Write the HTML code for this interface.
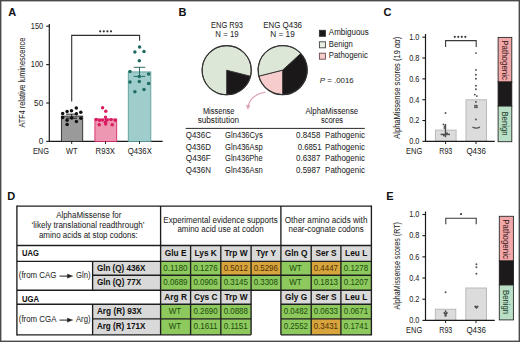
<!DOCTYPE html>
<html><head><meta charset="utf-8"><style>
html,body{margin:0;padding:0;background:#fff;overflow:hidden;}
svg{display:block;font-family:"Liberation Sans", sans-serif;}
text{stroke:currentColor;stroke-width:0.04px;}
</style></head><body>
<svg width="520" height="342" viewBox="0 0 520 342">
<rect width="520" height="342" fill="#fff"/>
<text x="8.2" y="16" font-size="11" text-anchor="start" fill="#111" color="#111" font-weight="bold">A</text>
<text x="178.5" y="16" font-size="11" text-anchor="start" fill="#111" color="#111" font-weight="bold">B</text>
<text x="383.5" y="16" font-size="11" text-anchor="start" fill="#111" color="#111" font-weight="bold">C</text>
<text x="7.3" y="200" font-size="11" text-anchor="start" fill="#111" color="#111" font-weight="bold">D</text>
<text x="386.2" y="200" font-size="11" text-anchor="start" fill="#111" color="#111" font-weight="bold">E</text>
<line x1="49.3" y1="23.9" x2="49.3" y2="141.4" stroke="#1a1a1a" stroke-width="1.2"/>
<line x1="46.2" y1="26.2" x2="49.3" y2="26.2" stroke="#1a1a1a" stroke-width="1.1"/>
<text x="43.2" y="29" font-size="8.2" text-anchor="end" fill="#1e1e1e" color="#1e1e1e" textLength="12.4" lengthAdjust="spacingAndGlyphs">150</text>
<line x1="46.2" y1="64.6" x2="49.3" y2="64.6" stroke="#1a1a1a" stroke-width="1.1"/>
<text x="43.2" y="67" font-size="8.2" text-anchor="end" fill="#1e1e1e" color="#1e1e1e" textLength="12.4" lengthAdjust="spacingAndGlyphs">100</text>
<line x1="46.2" y1="103" x2="49.3" y2="103" stroke="#1a1a1a" stroke-width="1.1"/>
<text x="43.2" y="106" font-size="8.2" text-anchor="end" fill="#1e1e1e" color="#1e1e1e">50</text>
<line x1="46.2" y1="141.4" x2="49.3" y2="141.4" stroke="#1a1a1a" stroke-width="1.1"/>
<text x="43.2" y="144" font-size="8.2" text-anchor="end" fill="#1e1e1e" color="#1e1e1e">0</text>
<line x1="48.699999999999996" y1="141.4" x2="162.7" y2="141.4" stroke="#1a1a1a" stroke-width="1.2"/>
<rect x="61.4" y="116.1" width="21.3" height="25.3" fill="#9a9a9a" stroke="#2a2a2a" stroke-width="0.9"/>
<rect x="94.9" y="119" width="21.8" height="22.4" fill="#ee97b2" stroke="#d92a66" stroke-width="0.9"/>
<rect x="128.3" y="71.9" width="22.5" height="69.5" fill="#9ecdcb" stroke="#5e9f9d" stroke-width="0.9"/>
<line x1="71.7" y1="141.4" x2="71.7" y2="143.9" stroke="#1a1a1a" stroke-width="1.0"/>
<line x1="105.5" y1="141.4" x2="105.5" y2="143.9" stroke="#1a1a1a" stroke-width="1.0"/>
<line x1="139.5" y1="141.4" x2="139.5" y2="143.9" stroke="#1a1a1a" stroke-width="1.0"/>
<path d="M66,114.2 H77 M71.7,114.2 V118.2 M66,118.2 H77" stroke="#111" stroke-width="0.9" fill="none" />
<path d="M105.5,117.5 V121" stroke="#a0103e" stroke-width="0.8" fill="none" />
<path d="M133.7,67.3 H145.3 M139.5,67.3 V76.4 M133.7,76.4 H145.3" stroke="#1c5e56" stroke-width="0.9" fill="none" />
<path d="M71.7,101.6 V35.4 H139.6 V40.8" stroke="#2e2e2e" stroke-width="1.1" fill="none" />
<circle cx="100.2" cy="31.3" r="1.1" fill="#2e2e2e"/>
<circle cx="103.8" cy="31.3" r="1.1" fill="#2e2e2e"/>
<circle cx="107.4" cy="31.3" r="1.1" fill="#2e2e2e"/>
<circle cx="111.0" cy="31.3" r="1.1" fill="#2e2e2e"/>
<circle cx="76.3" cy="108.1" r="1.75" fill="#111"/>
<circle cx="71.5" cy="110.7" r="1.75" fill="#111"/>
<circle cx="67.1" cy="111.5" r="1.75" fill="#111"/>
<circle cx="80.8" cy="112.3" r="1.75" fill="#111"/>
<circle cx="62.7" cy="113.6" r="1.75" fill="#111"/>
<circle cx="76.4" cy="113.8" r="1.75" fill="#111"/>
<circle cx="62.7" cy="117.6" r="1.75" fill="#111"/>
<circle cx="71.7" cy="118" r="1.75" fill="#111"/>
<circle cx="80.8" cy="118.3" r="1.75" fill="#111"/>
<circle cx="67.1" cy="120.3" r="1.75" fill="#111"/>
<circle cx="76.4" cy="121.6" r="1.75" fill="#111"/>
<circle cx="67.1" cy="124.4" r="1.75" fill="#111"/>
<circle cx="102.6" cy="107.7" r="1.7" fill="#d81b60"/>
<circle cx="105.8" cy="111.3" r="1.7" fill="#d81b60"/>
<circle cx="105.5" cy="117.1" r="1.7" fill="#d81b60"/>
<circle cx="96.2" cy="119.5" r="1.7" fill="#d81b60"/>
<circle cx="99.6" cy="120.3" r="1.7" fill="#d81b60"/>
<circle cx="102.6" cy="120.1" r="1.7" fill="#d81b60"/>
<circle cx="107.2" cy="119.9" r="1.7" fill="#d81b60"/>
<circle cx="111" cy="119.6" r="1.7" fill="#d81b60"/>
<circle cx="115.2" cy="120.3" r="1.7" fill="#d81b60"/>
<circle cx="105.5" cy="122.2" r="1.7" fill="#d81b60"/>
<circle cx="99.2" cy="124.7" r="1.7" fill="#d81b60"/>
<circle cx="112.2" cy="124.8" r="1.7" fill="#d81b60"/>
<circle cx="105.7" cy="124" r="1.7" fill="#d81b60"/>
<circle cx="139.6" cy="47" r="1.75" fill="#1e6b62"/>
<circle cx="134.9" cy="51.9" r="1.75" fill="#1e6b62"/>
<circle cx="144" cy="51.4" r="1.75" fill="#1e6b62"/>
<circle cx="139.3" cy="60.7" r="1.75" fill="#1e6b62"/>
<circle cx="130" cy="71.6" r="1.75" fill="#1e6b62"/>
<circle cx="148.6" cy="73.9" r="1.75" fill="#1e6b62"/>
<circle cx="139.3" cy="76.5" r="1.75" fill="#1e6b62"/>
<circle cx="130" cy="82.1" r="1.75" fill="#1e6b62"/>
<circle cx="139.3" cy="81.6" r="1.75" fill="#1e6b62"/>
<circle cx="148.6" cy="83.5" r="1.75" fill="#1e6b62"/>
<circle cx="134.9" cy="91.8" r="1.75" fill="#1e6b62"/>
<circle cx="144" cy="89.5" r="1.75" fill="#1e6b62"/>
<text x="32.9" y="154" font-size="8.3" text-anchor="start" fill="#1e1e1e" color="#1e1e1e" textLength="16" lengthAdjust="spacingAndGlyphs">ENG</text>
<text x="71.8" y="154" font-size="8.3" text-anchor="middle" fill="#1e1e1e" color="#1e1e1e" textLength="11.5" lengthAdjust="spacingAndGlyphs">WT</text>
<text x="105.3" y="154" font-size="8.3" text-anchor="middle" fill="#1e1e1e" color="#1e1e1e" textLength="19.4" lengthAdjust="spacingAndGlyphs">R93X</text>
<text x="139.8" y="154" font-size="8.3" text-anchor="middle" fill="#1e1e1e" color="#1e1e1e" textLength="24.2" lengthAdjust="spacingAndGlyphs">Q436X</text>
<text transform="translate(24.5,82.7) rotate(-90)" font-size="9.0" text-anchor="middle" fill="#1e1e1e" color="#1e1e1e" textLength="89.8" lengthAdjust="spacingAndGlyphs">ATF4 relative luminescence</text>
<text x="227" y="28" font-size="8.3" text-anchor="middle" fill="#1e1e1e" color="#1e1e1e" textLength="32" lengthAdjust="spacingAndGlyphs">ENG R93</text>
<text x="227" y="37" font-size="8.3" text-anchor="middle" fill="#1e1e1e" color="#1e1e1e" textLength="23.3" lengthAdjust="spacingAndGlyphs">N = 19</text>
<text x="282.6" y="28" font-size="8.3" text-anchor="middle" fill="#1e1e1e" color="#1e1e1e" textLength="38.8" lengthAdjust="spacingAndGlyphs">ENG Q436</text>
<text x="282.5" y="37" font-size="8.3" text-anchor="middle" fill="#1e1e1e" color="#1e1e1e" textLength="24.6" lengthAdjust="spacingAndGlyphs">N = 19</text>
<path d="M226.7,70.2 L250.55,76.24 A24.6,24.6 0 0 1 226.70,94.80 Z" fill="#1a1818" stroke="#2a2a2a" stroke-width="0.9" stroke-linejoin="round"/>
<path d="M226.7,70.2 L226.70,94.80 A24.6,24.6 0 1 1 250.55,76.24 Z" fill="#dde7d7" stroke="#2a2a2a" stroke-width="0.9" stroke-linejoin="round"/>
<circle cx="226.7" cy="70.2" r="24.6" fill="none" stroke="#333" stroke-width="1.1"/>
<path d="M282.65,70.1 L300.75,53.44 A24.6,24.6 0 0 1 282.65,94.70 Z" fill="#1a1818" stroke="#2a2a2a" stroke-width="0.9" stroke-linejoin="round"/>
<path d="M282.65,70.1 L282.65,94.70 A24.6,24.6 0 0 1 258.80,76.14 Z" fill="#f6cccc" stroke="#2a2a2a" stroke-width="0.9" stroke-linejoin="round"/>
<path d="M282.65,70.1 L258.80,76.14 A24.6,24.6 0 0 1 300.75,53.44 Z" fill="#dde7d7" stroke="#2a2a2a" stroke-width="0.9" stroke-linejoin="round"/>
<circle cx="282.65" cy="70.1" r="24.6" fill="none" stroke="#333" stroke-width="1.1"/>
<rect x="319.4" y="30.3" width="6" height="6" fill="#1a1818" stroke="#333" stroke-width="0.9"/>
<rect x="319.4" y="41.8" width="6" height="6" fill="#e9efe2" stroke="#444" stroke-width="0.9"/>
<rect x="319.4" y="53.2" width="6" height="6" fill="#f6cccc" stroke="#6a4a4a" stroke-width="0.9"/>
<text x="328.8" y="35" font-size="8.3" text-anchor="start" fill="#1e1e1e" color="#1e1e1e" textLength="40" lengthAdjust="spacingAndGlyphs">Ambiguous</text>
<text x="328.8" y="47" font-size="8.3" text-anchor="start" fill="#1e1e1e" color="#1e1e1e" textLength="23.9" lengthAdjust="spacingAndGlyphs">Benign</text>
<text x="328.8" y="58" font-size="8.3" text-anchor="start" fill="#1e1e1e" color="#1e1e1e" textLength="39" lengthAdjust="spacingAndGlyphs">Pathogenic</text>
<text x="319.8" y="83" font-size="7.9" fill="#1e1e1e" color="#1e1e1e" textLength="33.9" lengthAdjust="spacingAndGlyphs"><tspan font-style="italic">P</tspan> = .0016</text>
<path d="M265.3,92.2 C258,93.5 250.5,97 248.3,105.5" stroke="#dca0ae" stroke-width="1.2" fill="none" />
<path d="M246.2,105.2 L247.9,109.2 L250.1,105.5 Z" stroke="#dca0ae" stroke-width="0.5" fill="#dca0ae" />
<text x="218.7" y="114" font-size="8.3" text-anchor="middle" fill="#1e1e1e" color="#1e1e1e" textLength="31.6" lengthAdjust="spacingAndGlyphs">Missense</text>
<text x="218.4" y="123" font-size="8.3" text-anchor="middle" fill="#1e1e1e" color="#1e1e1e" textLength="41.5" lengthAdjust="spacingAndGlyphs">substitution</text>
<text x="331.8" y="114" font-size="8.3" text-anchor="middle" fill="#1e1e1e" color="#1e1e1e" textLength="52.7" lengthAdjust="spacingAndGlyphs">AlphaMissense</text>
<text x="332" y="123" font-size="8.3" text-anchor="middle" fill="#1e1e1e" color="#1e1e1e" textLength="22.2" lengthAdjust="spacingAndGlyphs">scores</text>
<line x1="185.6" y1="128.4" x2="364.8" y2="128.4" stroke="#2a2a2a" stroke-width="1.0"/>
<text x="185.8" y="138" font-size="8.3" text-anchor="start" fill="#1e1e1e" color="#1e1e1e" textLength="25.1" lengthAdjust="spacingAndGlyphs">Q436C</text>
<text x="225.1" y="138" font-size="8.3" text-anchor="start" fill="#1e1e1e" color="#1e1e1e" textLength="37.6" lengthAdjust="spacingAndGlyphs">Gln436Cys</text>
<text x="320.3" y="138" font-size="8.3" text-anchor="end" fill="#1e1e1e" color="#1e1e1e" textLength="24.2" lengthAdjust="spacingAndGlyphs">0.8458</text>
<text x="325.1" y="138" font-size="8.3" text-anchor="start" fill="#1e1e1e" color="#1e1e1e" textLength="39.8" lengthAdjust="spacingAndGlyphs">Pathogenic</text>
<text x="185.8" y="150" font-size="8.3" text-anchor="start" fill="#1e1e1e" color="#1e1e1e" textLength="25.1" lengthAdjust="spacingAndGlyphs">Q436D</text>
<text x="225.1" y="150" font-size="8.3" text-anchor="start" fill="#1e1e1e" color="#1e1e1e" textLength="37.6" lengthAdjust="spacingAndGlyphs">Gln436Asp</text>
<text x="321.5" y="150" font-size="8.3" text-anchor="end" fill="#1e1e1e" color="#1e1e1e" textLength="23.8" lengthAdjust="spacingAndGlyphs">0.6851</text>
<text x="325.1" y="150" font-size="8.3" text-anchor="start" fill="#1e1e1e" color="#1e1e1e" textLength="39.8" lengthAdjust="spacingAndGlyphs">Pathogenic</text>
<text x="185.8" y="161" font-size="8.3" text-anchor="start" fill="#1e1e1e" color="#1e1e1e" textLength="25.1" lengthAdjust="spacingAndGlyphs">Q436F</text>
<text x="225.1" y="161" font-size="8.3" text-anchor="start" fill="#1e1e1e" color="#1e1e1e" textLength="37.6" lengthAdjust="spacingAndGlyphs">Gln436Phe</text>
<text x="320.3" y="161" font-size="8.3" text-anchor="end" fill="#1e1e1e" color="#1e1e1e" textLength="24.2" lengthAdjust="spacingAndGlyphs">0.6387</text>
<text x="325.1" y="161" font-size="8.3" text-anchor="start" fill="#1e1e1e" color="#1e1e1e" textLength="39.8" lengthAdjust="spacingAndGlyphs">Pathogenic</text>
<text x="185.8" y="173" font-size="8.3" text-anchor="start" fill="#1e1e1e" color="#1e1e1e" textLength="25.1" lengthAdjust="spacingAndGlyphs">Q436N</text>
<text x="225.1" y="173" font-size="8.3" text-anchor="start" fill="#1e1e1e" color="#1e1e1e" textLength="37.6" lengthAdjust="spacingAndGlyphs">Gln436Asn</text>
<text x="320.3" y="173" font-size="8.3" text-anchor="end" fill="#1e1e1e" color="#1e1e1e" textLength="24.2" lengthAdjust="spacingAndGlyphs">0.5987</text>
<text x="325.1" y="173" font-size="8.3" text-anchor="start" fill="#1e1e1e" color="#1e1e1e" textLength="39.8" lengthAdjust="spacingAndGlyphs">Pathogenic</text>
<line x1="425.5" y1="34" x2="425.5" y2="141.4" stroke="#1a1a1a" stroke-width="1.2"/>
<line x1="422.4" y1="141.4" x2="425.5" y2="141.4" stroke="#1a1a1a" stroke-width="1.1"/>
<text x="419.4" y="144" font-size="8.2" text-anchor="end" fill="#1e1e1e" color="#1e1e1e" textLength="10.2" lengthAdjust="spacingAndGlyphs">0.0</text>
<line x1="422.4" y1="120.56" x2="425.5" y2="120.56" stroke="#1a1a1a" stroke-width="1.1"/>
<text x="419.4" y="123" font-size="8.2" text-anchor="end" fill="#1e1e1e" color="#1e1e1e" textLength="10.2" lengthAdjust="spacingAndGlyphs">0.2</text>
<line x1="422.4" y1="99.72" x2="425.5" y2="99.72" stroke="#1a1a1a" stroke-width="1.1"/>
<text x="419.4" y="103" font-size="8.2" text-anchor="end" fill="#1e1e1e" color="#1e1e1e" textLength="10.2" lengthAdjust="spacingAndGlyphs">0.4</text>
<line x1="422.4" y1="78.88" x2="425.5" y2="78.88" stroke="#1a1a1a" stroke-width="1.1"/>
<text x="419.4" y="82" font-size="8.2" text-anchor="end" fill="#1e1e1e" color="#1e1e1e" textLength="10.2" lengthAdjust="spacingAndGlyphs">0.6</text>
<line x1="422.4" y1="58.03999999999999" x2="425.5" y2="58.03999999999999" stroke="#1a1a1a" stroke-width="1.1"/>
<text x="419.4" y="61" font-size="8.2" text-anchor="end" fill="#1e1e1e" color="#1e1e1e" textLength="10.2" lengthAdjust="spacingAndGlyphs">0.8</text>
<line x1="422.4" y1="37.2" x2="425.5" y2="37.2" stroke="#1a1a1a" stroke-width="1.1"/>
<text x="419.4" y="40" font-size="8.2" text-anchor="end" fill="#1e1e1e" color="#1e1e1e" textLength="10.2" lengthAdjust="spacingAndGlyphs">1.0</text>
<rect x="435.4" y="130.1" width="20.700000000000045" height="11.300000000000011" fill="#dcdcdc" stroke="#b4b4b4" stroke-width="0.9"/>
<rect x="466" y="99.8" width="20.5" height="41.60000000000001" fill="#dcdcdc" stroke="#b4b4b4" stroke-width="0.9"/>
<line x1="424.9" y1="141.4" x2="494.8" y2="141.4" stroke="#1a1a1a" stroke-width="1.2"/>
<line x1="445.6" y1="141.4" x2="445.6" y2="144.0" stroke="#1a1a1a" stroke-width="1.0"/>
<line x1="476" y1="141.4" x2="476" y2="144.0" stroke="#1a1a1a" stroke-width="1.0"/>
<path d="M445.6,47 V40.6 H476.2 V47" stroke="#3a3a3a" stroke-width="1.1" fill="none" />
<circle cx="454.8" cy="36.8" r="1.1" fill="#3a3a3a"/>
<circle cx="458.3" cy="36.8" r="1.1" fill="#3a3a3a"/>
<circle cx="461.8" cy="36.8" r="1.1" fill="#3a3a3a"/>
<circle cx="465.3" cy="36.8" r="1.1" fill="#3a3a3a"/>
<circle cx="445.5" cy="113" r="0.95" fill="#505050"/>
<circle cx="443.5" cy="124.4" r="0.95" fill="#505050"/>
<path d="M445.5,124 V137.2" stroke="#505050" stroke-width="1.4" fill="none" />
<path d="M440.6,134.4 H450" stroke="#505050" stroke-width="1.5" fill="none" />
<path d="M444.3,125.5 V129" stroke="#505050" stroke-width="1.2" fill="none" />
<circle cx="447" cy="133.2" r="0.95" fill="#505050"/>
<circle cx="443.8" cy="135.6" r="0.95" fill="#505050"/>
<circle cx="475.9" cy="53.1" r="0.95" fill="#505050"/>
<circle cx="475.9" cy="69.9" r="0.95" fill="#505050"/>
<circle cx="475.9" cy="74.8" r="0.95" fill="#505050"/>
<circle cx="475.9" cy="78.7" r="0.95" fill="#505050"/>
<circle cx="475.9" cy="85.7" r="0.95" fill="#505050"/>
<circle cx="475.9" cy="89.2" r="0.95" fill="#505050"/>
<circle cx="474.8" cy="94.6" r="0.95" fill="#505050"/>
<circle cx="476.8" cy="96.1" r="0.95" fill="#505050"/>
<circle cx="475.9" cy="101.9" r="0.95" fill="#505050"/>
<circle cx="475" cy="105.6" r="0.95" fill="#505050"/>
<circle cx="476.8" cy="105.6" r="0.95" fill="#505050"/>
<circle cx="475" cy="107.2" r="0.95" fill="#505050"/>
<circle cx="476.8" cy="107.2" r="0.95" fill="#505050"/>
<circle cx="475.9" cy="119.5" r="0.95" fill="#505050"/>
<path d="M472.4,127 Q476.2,129.4 480,127" stroke="#505050" stroke-width="1.2" fill="none" />
<text x="414.2" y="154" font-size="8.3" text-anchor="middle" fill="#1e1e1e" color="#1e1e1e" textLength="16.2" lengthAdjust="spacingAndGlyphs">ENG</text>
<text x="445.8" y="154" font-size="8.3" text-anchor="middle" fill="#1e1e1e" color="#1e1e1e" textLength="13" lengthAdjust="spacingAndGlyphs">R93</text>
<text x="476.1" y="154" font-size="8.3" text-anchor="middle" fill="#1e1e1e" color="#1e1e1e" textLength="19.4" lengthAdjust="spacingAndGlyphs">Q436</text>
<text transform="translate(399.6,87.80000000000001) rotate(-90)" font-size="8.6" text-anchor="middle" fill="#1e1e1e" color="#1e1e1e" textLength="102" lengthAdjust="spacingAndGlyphs">AlphaMissense scores (19 <tspan font-style="italic">αα</tspan>)</text>
<rect x="498.1" y="37.4" width="13.699999999999989" height="44.6" fill="#f2a7a8" stroke="#2a2a2a" stroke-width="0.9"/>
<rect x="498.1" y="82" width="13.699999999999989" height="24.099999999999994" fill="#1c1a1a" stroke="#1c1a1a" stroke-width="0.9"/>
<rect x="498.1" y="106.1" width="13.699999999999989" height="35.599999999999994" fill="#b9e0c6" stroke="#2a2a2a" stroke-width="0.9"/>
<text transform="translate(502.05000000000007,60.1) rotate(90)" font-size="8.5" text-anchor="middle" fill="#3a2020" color="#3a2020" textLength="39.6" lengthAdjust="spacingAndGlyphs">Pathogenic</text>
<text transform="translate(502.05000000000007,123.49999999999999) rotate(90)" font-size="8.5" text-anchor="middle" fill="#203a28" color="#203a28" textLength="24.2" lengthAdjust="spacingAndGlyphs">Benign</text>
<line x1="425.5" y1="211.5" x2="425.5" y2="320.4" stroke="#1a1a1a" stroke-width="1.2"/>
<line x1="422.4" y1="320.4" x2="425.5" y2="320.4" stroke="#1a1a1a" stroke-width="1.1"/>
<text x="419.4" y="323" font-size="8.2" text-anchor="end" fill="#1e1e1e" color="#1e1e1e" textLength="10.2" lengthAdjust="spacingAndGlyphs">0.0</text>
<line x1="422.4" y1="299.21999999999997" x2="425.5" y2="299.21999999999997" stroke="#1a1a1a" stroke-width="1.1"/>
<text x="419.4" y="302" font-size="8.2" text-anchor="end" fill="#1e1e1e" color="#1e1e1e" textLength="10.2" lengthAdjust="spacingAndGlyphs">0.2</text>
<line x1="422.4" y1="278.03999999999996" x2="425.5" y2="278.03999999999996" stroke="#1a1a1a" stroke-width="1.1"/>
<text x="419.4" y="281" font-size="8.2" text-anchor="end" fill="#1e1e1e" color="#1e1e1e" textLength="10.2" lengthAdjust="spacingAndGlyphs">0.4</text>
<line x1="422.4" y1="256.85999999999996" x2="425.5" y2="256.85999999999996" stroke="#1a1a1a" stroke-width="1.1"/>
<text x="419.4" y="260" font-size="8.2" text-anchor="end" fill="#1e1e1e" color="#1e1e1e" textLength="10.2" lengthAdjust="spacingAndGlyphs">0.6</text>
<line x1="422.4" y1="235.68" x2="425.5" y2="235.68" stroke="#1a1a1a" stroke-width="1.1"/>
<text x="419.4" y="238" font-size="8.2" text-anchor="end" fill="#1e1e1e" color="#1e1e1e" textLength="10.2" lengthAdjust="spacingAndGlyphs">0.8</text>
<line x1="422.4" y1="214.5" x2="425.5" y2="214.5" stroke="#1a1a1a" stroke-width="1.1"/>
<text x="419.4" y="217" font-size="8.2" text-anchor="end" fill="#1e1e1e" color="#1e1e1e" textLength="10.2" lengthAdjust="spacingAndGlyphs">1.0</text>
<rect x="435.3" y="309.2" width="20.5" height="11.199999999999989" fill="#dcdcdc" stroke="#b4b4b4" stroke-width="0.9"/>
<rect x="465.8" y="288" width="20.69999999999999" height="32.39999999999998" fill="#dcdcdc" stroke="#b4b4b4" stroke-width="0.9"/>
<line x1="424.9" y1="320.4" x2="494.8" y2="320.4" stroke="#1a1a1a" stroke-width="1.2"/>
<line x1="445.6" y1="320.4" x2="445.6" y2="323.0" stroke="#1a1a1a" stroke-width="1.0"/>
<line x1="476" y1="320.4" x2="476" y2="323.0" stroke="#1a1a1a" stroke-width="1.0"/>
<path d="M445.8,224.2 V218.3 H476.2 V224.2" stroke="#3a3a3a" stroke-width="1.1" fill="none" />
<circle cx="461" cy="214.1" r="1.1" fill="#3a3a3a"/>
<circle cx="445.6" cy="292.3" r="0.95" fill="#505050"/>
<circle cx="445.6" cy="311.2" r="0.95" fill="#505050"/>
<path d="M445.6,315.5 L443.5,313.5 A1.05,1.05 0 0 1 445.6,312.70000000000005 A1.05,1.05 0 0 1 447.70000000000005,313.5 Z" stroke="none" stroke-width="0" fill="#505050" />
<path d="M445.6,314 V316.4" stroke="#505050" stroke-width="1.1" fill="none" />
<path d="M444.2,315.8 H447" stroke="#505050" stroke-width="1.0" fill="none" />
<circle cx="476.4" cy="264.2" r="0.95" fill="#505050"/>
<circle cx="476.4" cy="267.3" r="0.95" fill="#505050"/>
<circle cx="476.4" cy="273.8" r="0.95" fill="#505050"/>
<path d="M476.4,309.09999999999997 L474.29999999999995,307.09999999999997 A1.05,1.05 0 0 1 476.4,306.3 A1.05,1.05 0 0 1 478.5,307.09999999999997 Z" stroke="none" stroke-width="0" fill="#505050" />
<text x="414.2" y="333" font-size="8.3" text-anchor="middle" fill="#1e1e1e" color="#1e1e1e" textLength="16.2" lengthAdjust="spacingAndGlyphs">ENG</text>
<text x="445.8" y="333" font-size="8.3" text-anchor="middle" fill="#1e1e1e" color="#1e1e1e" textLength="13" lengthAdjust="spacingAndGlyphs">R93</text>
<text x="476.1" y="333" font-size="8.3" text-anchor="middle" fill="#1e1e1e" color="#1e1e1e" textLength="19.4" lengthAdjust="spacingAndGlyphs">Q436</text>
<text transform="translate(399.6,265.8) rotate(-90)" font-size="8.6" text-anchor="middle" fill="#1e1e1e" color="#1e1e1e" textLength="87.4" lengthAdjust="spacingAndGlyphs">AlphaMissense scores (RT)</text>
<rect x="499.3" y="216.3" width="14.099999999999966" height="44.69999999999999" fill="#f2a7a8" stroke="#2a2a2a" stroke-width="0.9"/>
<rect x="499.3" y="261" width="14.099999999999966" height="24" fill="#1c1a1a" stroke="#1c1a1a" stroke-width="0.9"/>
<rect x="499.3" y="285" width="14.099999999999966" height="34.89999999999998" fill="#b9e0c6" stroke="#2a2a2a" stroke-width="0.9"/>
<text transform="translate(503.45000000000005,239.05) rotate(90)" font-size="8.5" text-anchor="middle" fill="#3a2020" color="#3a2020" textLength="39.6" lengthAdjust="spacingAndGlyphs">Pathogenic</text>
<text transform="translate(503.45000000000005,302.05) rotate(90)" font-size="8.5" text-anchor="middle" fill="#203a28" color="#203a28" textLength="24.2" lengthAdjust="spacingAndGlyphs">Benign</text>
<rect x="160.6" y="245.5" width="30.0" height="15.800000000000011" fill="#d9d9d9" stroke="none" stroke-width="1.0"/>
<rect x="190.6" y="245.5" width="30.200000000000017" height="15.800000000000011" fill="#d9d9d9" stroke="none" stroke-width="1.0"/>
<rect x="220.8" y="245.5" width="30.299999999999983" height="15.800000000000011" fill="#d9d9d9" stroke="none" stroke-width="1.0"/>
<rect x="251.1" y="245.5" width="29.799999999999983" height="15.800000000000011" fill="#d9d9d9" stroke="none" stroke-width="1.0"/>
<rect x="280.9" y="245.5" width="30.30000000000001" height="15.800000000000011" fill="#d9d9d9" stroke="none" stroke-width="1.0"/>
<rect x="311.2" y="245.5" width="29.69999999999999" height="15.800000000000011" fill="#d9d9d9" stroke="none" stroke-width="1.0"/>
<rect x="340.9" y="245.5" width="30.5" height="15.800000000000011" fill="#d9d9d9" stroke="none" stroke-width="1.0"/>
<rect x="92.6" y="261.3" width="68.0" height="13.899999999999977" fill="#d9d9d9" stroke="none" stroke-width="1.0"/>
<rect x="160.6" y="261.3" width="30.0" height="13.899999999999977" fill="#8dc95d" stroke="none" stroke-width="1.0"/>
<rect x="190.6" y="261.3" width="30.200000000000017" height="13.899999999999977" fill="#8dc95d" stroke="none" stroke-width="1.0"/>
<rect x="220.8" y="261.3" width="30.299999999999983" height="13.899999999999977" fill="#d7a53c" stroke="none" stroke-width="1.0"/>
<rect x="251.1" y="261.3" width="29.799999999999983" height="13.899999999999977" fill="#d7a53c" stroke="none" stroke-width="1.0"/>
<rect x="280.9" y="261.3" width="30.30000000000001" height="13.899999999999977" fill="#8dc95d" stroke="none" stroke-width="1.0"/>
<rect x="311.2" y="261.3" width="29.69999999999999" height="13.899999999999977" fill="#d7a53c" stroke="none" stroke-width="1.0"/>
<rect x="340.9" y="261.3" width="30.5" height="13.899999999999977" fill="#8dc95d" stroke="none" stroke-width="1.0"/>
<rect x="92.6" y="275.2" width="68.0" height="15.0" fill="#d9d9d9" stroke="none" stroke-width="1.0"/>
<rect x="160.6" y="275.2" width="30.0" height="15.0" fill="#8dc95d" stroke="none" stroke-width="1.0"/>
<rect x="190.6" y="275.2" width="30.200000000000017" height="15.0" fill="#8dc95d" stroke="none" stroke-width="1.0"/>
<rect x="220.8" y="275.2" width="30.299999999999983" height="15.0" fill="#8dc95d" stroke="none" stroke-width="1.0"/>
<rect x="251.1" y="275.2" width="29.799999999999983" height="15.0" fill="#8dc95d" stroke="none" stroke-width="1.0"/>
<rect x="280.9" y="275.2" width="30.30000000000001" height="15.0" fill="#8dc95d" stroke="none" stroke-width="1.0"/>
<rect x="311.2" y="275.2" width="29.69999999999999" height="15.0" fill="#8dc95d" stroke="none" stroke-width="1.0"/>
<rect x="340.9" y="275.2" width="30.5" height="15.0" fill="#8dc95d" stroke="none" stroke-width="1.0"/>
<rect x="160.6" y="290.2" width="30.0" height="14.0" fill="#d9d9d9" stroke="none" stroke-width="1.0"/>
<rect x="190.6" y="290.2" width="30.200000000000017" height="14.0" fill="#d9d9d9" stroke="none" stroke-width="1.0"/>
<rect x="220.8" y="290.2" width="30.299999999999983" height="14.0" fill="#d9d9d9" stroke="none" stroke-width="1.0"/>
<rect x="280.9" y="290.2" width="30.30000000000001" height="14.0" fill="#d9d9d9" stroke="none" stroke-width="1.0"/>
<rect x="311.2" y="290.2" width="29.69999999999999" height="14.0" fill="#d9d9d9" stroke="none" stroke-width="1.0"/>
<rect x="340.9" y="290.2" width="30.5" height="14.0" fill="#d9d9d9" stroke="none" stroke-width="1.0"/>
<rect x="92.6" y="304.2" width="68.0" height="14.600000000000023" fill="#d9d9d9" stroke="none" stroke-width="1.0"/>
<rect x="160.6" y="304.2" width="30.0" height="14.600000000000023" fill="#8dc95d" stroke="none" stroke-width="1.0"/>
<rect x="190.6" y="304.2" width="30.200000000000017" height="14.600000000000023" fill="#8dc95d" stroke="none" stroke-width="1.0"/>
<rect x="220.8" y="304.2" width="30.299999999999983" height="14.600000000000023" fill="#8dc95d" stroke="none" stroke-width="1.0"/>
<rect x="280.9" y="304.2" width="30.30000000000001" height="14.600000000000023" fill="#8dc95d" stroke="none" stroke-width="1.0"/>
<rect x="311.2" y="304.2" width="29.69999999999999" height="14.600000000000023" fill="#8dc95d" stroke="none" stroke-width="1.0"/>
<rect x="340.9" y="304.2" width="30.5" height="14.600000000000023" fill="#8dc95d" stroke="none" stroke-width="1.0"/>
<rect x="92.6" y="318.8" width="68.0" height="16.0" fill="#d9d9d9" stroke="none" stroke-width="1.0"/>
<rect x="160.6" y="318.8" width="30.0" height="16.0" fill="#8dc95d" stroke="none" stroke-width="1.0"/>
<rect x="190.6" y="318.8" width="30.200000000000017" height="16.0" fill="#8dc95d" stroke="none" stroke-width="1.0"/>
<rect x="220.8" y="318.8" width="30.299999999999983" height="16.0" fill="#8dc95d" stroke="none" stroke-width="1.0"/>
<rect x="280.9" y="318.8" width="30.30000000000001" height="16.0" fill="#8dc95d" stroke="none" stroke-width="1.0"/>
<rect x="311.2" y="318.8" width="29.69999999999999" height="16.0" fill="#d7a53c" stroke="none" stroke-width="1.0"/>
<rect x="340.9" y="318.8" width="30.5" height="16.0" fill="#8dc95d" stroke="none" stroke-width="1.0"/>
<line x1="16.9" y1="206.1" x2="371.4" y2="206.1" stroke="#1e1e1e" stroke-width="1.35"/>
<line x1="16.9" y1="245.5" x2="371.4" y2="245.5" stroke="#1e1e1e" stroke-width="1.35"/>
<line x1="16.9" y1="261.3" x2="371.4" y2="261.3" stroke="#1e1e1e" stroke-width="1.35"/>
<line x1="92.6" y1="275.2" x2="371.4" y2="275.2" stroke="#1e1e1e" stroke-width="1.35"/>
<line x1="16.9" y1="290.2" x2="371.4" y2="290.2" stroke="#1e1e1e" stroke-width="1.35"/>
<line x1="16.9" y1="304.2" x2="251.1" y2="304.2" stroke="#1e1e1e" stroke-width="1.35"/>
<line x1="280.9" y1="304.2" x2="371.4" y2="304.2" stroke="#1e1e1e" stroke-width="1.35"/>
<line x1="16.9" y1="334.8" x2="251.1" y2="334.8" stroke="#1e1e1e" stroke-width="1.35"/>
<line x1="280.9" y1="334.8" x2="371.4" y2="334.8" stroke="#1e1e1e" stroke-width="1.35"/>
<line x1="92.6" y1="318.8" x2="251.1" y2="318.8" stroke="#1e1e1e" stroke-width="1.35"/>
<line x1="280.9" y1="318.8" x2="371.4" y2="318.8" stroke="#1e1e1e" stroke-width="1.35"/>
<line x1="16.9" y1="205.5" x2="16.9" y2="335.40000000000003" stroke="#1e1e1e" stroke-width="1.35"/>
<line x1="371.4" y1="205.5" x2="371.4" y2="335.40000000000003" stroke="#1e1e1e" stroke-width="1.35"/>
<line x1="160.6" y1="206.1" x2="160.6" y2="334.8" stroke="#1e1e1e" stroke-width="1.35"/>
<line x1="280.9" y1="206.1" x2="280.9" y2="334.8" stroke="#1e1e1e" stroke-width="1.35"/>
<line x1="92.6" y1="261.3" x2="92.6" y2="290.2" stroke="#1e1e1e" stroke-width="1.35"/>
<line x1="92.6" y1="304.2" x2="92.6" y2="334.8" stroke="#1e1e1e" stroke-width="1.35"/>
<line x1="190.6" y1="245.5" x2="190.6" y2="334.8" stroke="#1e1e1e" stroke-width="1.35"/>
<line x1="220.8" y1="245.5" x2="220.8" y2="334.8" stroke="#1e1e1e" stroke-width="1.35"/>
<line x1="251.1" y1="245.5" x2="251.1" y2="334.8" stroke="#1e1e1e" stroke-width="1.35"/>
<line x1="311.2" y1="245.5" x2="311.2" y2="334.8" stroke="#1e1e1e" stroke-width="1.35"/>
<line x1="340.9" y1="245.5" x2="340.9" y2="334.8" stroke="#1e1e1e" stroke-width="1.35"/>
<text x="88.8" y="218" font-size="8.3" text-anchor="middle" fill="#1e1e1e" color="#1e1e1e" textLength="65.3" lengthAdjust="spacingAndGlyphs">AlphaMissense for</text>
<text x="88" y="228" font-size="8.3" text-anchor="middle" fill="#1e1e1e" color="#1e1e1e" textLength="113" lengthAdjust="spacingAndGlyphs">‘likely translational readthrough’</text>
<text x="88.3" y="238" font-size="8.3" text-anchor="middle" fill="#1e1e1e" color="#1e1e1e" textLength="98.8" lengthAdjust="spacingAndGlyphs">amino acids at stop codons:</text>
<text x="220.6" y="223" font-size="8.3" text-anchor="middle" fill="#1e1e1e" color="#1e1e1e" textLength="114.6" lengthAdjust="spacingAndGlyphs">Experimental evidence supports</text>
<text x="220.5" y="232" font-size="8.3" text-anchor="middle" fill="#1e1e1e" color="#1e1e1e" textLength="86.2" lengthAdjust="spacingAndGlyphs">amino acid use at codon</text>
<text x="326.1" y="223" font-size="8.3" text-anchor="middle" fill="#1e1e1e" color="#1e1e1e" textLength="82.6" lengthAdjust="spacingAndGlyphs">Other amino acids with</text>
<text x="326.1" y="232" font-size="8.3" text-anchor="middle" fill="#1e1e1e" color="#1e1e1e" textLength="75.2" lengthAdjust="spacingAndGlyphs">near-cognate codons</text>
<text x="22" y="256" font-size="8.3" text-anchor="start" fill="#111" color="#111" font-weight="bold" textLength="16.9" lengthAdjust="spacingAndGlyphs">UAG</text>
<text x="21.9" y="302" font-size="8.3" text-anchor="start" fill="#111" color="#111" font-weight="bold" textLength="17.1" lengthAdjust="spacingAndGlyphs">UGA</text>
<text x="18.8" y="278" font-size="8.3" text-anchor="start" fill="#1e1e1e" color="#1e1e1e" textLength="37.6" lengthAdjust="spacingAndGlyphs">(from CAG</text>
<text x="76" y="278" font-size="8.3" text-anchor="start" fill="#1e1e1e" color="#1e1e1e" textLength="14.5" lengthAdjust="spacingAndGlyphs">Gln)</text>
<text x="18.8" y="322" font-size="8.3" text-anchor="start" fill="#1e1e1e" color="#1e1e1e" textLength="37.6" lengthAdjust="spacingAndGlyphs">(from CGA</text>
<text x="76" y="322" font-size="8.3" text-anchor="start" fill="#1e1e1e" color="#1e1e1e" textLength="14.5" lengthAdjust="spacingAndGlyphs">Arg)</text>
<path d="M59.5,276.1 H69" stroke="#222" stroke-width="1.0" fill="none" />
<path d="M67.3,274.0 L72.8,276.1 L67.3,278.20000000000005 Z" stroke="#222" stroke-width="0.3" fill="#222" />
<path d="M59.5,320.1 H69" stroke="#222" stroke-width="1.0" fill="none" />
<path d="M67.3,318.0 L72.8,320.1 L67.3,322.20000000000005 Z" stroke="#222" stroke-width="0.3" fill="#222" />
<text x="96.9" y="271" font-size="8.3" text-anchor="start" fill="#111" color="#111" font-weight="bold" textLength="48.5" lengthAdjust="spacingAndGlyphs">Gln (Q) 436X</text>
<text x="96.9" y="285" font-size="8.3" text-anchor="start" fill="#111" color="#111" font-weight="bold" textLength="44.2" lengthAdjust="spacingAndGlyphs">Gln (Q) 77X</text>
<text x="96.9" y="314" font-size="8.3" text-anchor="start" fill="#111" color="#111" font-weight="bold" textLength="45" lengthAdjust="spacingAndGlyphs">Arg (R) 93X</text>
<text x="96.9" y="329" font-size="8.3" text-anchor="start" fill="#111" color="#111" font-weight="bold" textLength="48.4" lengthAdjust="spacingAndGlyphs">Arg (R) 171X</text>
<text x="175.6" y="256" font-size="8.3" text-anchor="middle" fill="#111" color="#111" font-weight="bold">Glu E</text>
<text x="205.7" y="256" font-size="8.3" text-anchor="middle" fill="#111" color="#111" font-weight="bold">Lys K</text>
<text x="235.95" y="256" font-size="8.3" text-anchor="middle" fill="#111" color="#111" font-weight="bold">Trp W</text>
<text x="266.0" y="256" font-size="8.3" text-anchor="middle" fill="#111" color="#111" font-weight="bold">Tyr Y</text>
<text x="296.04999999999995" y="256" font-size="8.3" text-anchor="middle" fill="#111" color="#111" font-weight="bold">Gln Q</text>
<text x="326.04999999999995" y="256" font-size="8.3" text-anchor="middle" fill="#111" color="#111" font-weight="bold">Ser S</text>
<text x="356.15" y="256" font-size="8.3" text-anchor="middle" fill="#111" color="#111" font-weight="bold">Leu L</text>
<text x="175.6" y="300" font-size="8.3" text-anchor="middle" fill="#111" color="#111" font-weight="bold">Arg R</text>
<text x="205.7" y="300" font-size="8.3" text-anchor="middle" fill="#111" color="#111" font-weight="bold">Cys C</text>
<text x="235.95" y="300" font-size="8.3" text-anchor="middle" fill="#111" color="#111" font-weight="bold">Trp W</text>
<text x="296.04999999999995" y="300" font-size="8.3" text-anchor="middle" fill="#111" color="#111" font-weight="bold">Gly G</text>
<text x="326.04999999999995" y="300" font-size="8.3" text-anchor="middle" fill="#111" color="#111" font-weight="bold">Ser S</text>
<text x="356.15" y="300" font-size="8.3" text-anchor="middle" fill="#111" color="#111" font-weight="bold">Leu L</text>
<text x="175.4" y="271" font-size="8.4" text-anchor="middle" fill="#224f0e" color="#224f0e" textLength="24.2" lengthAdjust="spacingAndGlyphs">0.1180</text>
<text x="205.5" y="271" font-size="8.4" text-anchor="middle" fill="#224f0e" color="#224f0e" textLength="24.2" lengthAdjust="spacingAndGlyphs">0.1276</text>
<text x="235.75" y="271" font-size="8.4" text-anchor="middle" fill="#553206" color="#553206" textLength="24.2" lengthAdjust="spacingAndGlyphs">0.5012</text>
<text x="265.8" y="271" font-size="8.4" text-anchor="middle" fill="#553206" color="#553206" textLength="24.2" lengthAdjust="spacingAndGlyphs">0.5296</text>
<text x="295.45" y="271" font-size="8.4" text-anchor="middle" fill="#224f0e" color="#224f0e" textLength="12.6" lengthAdjust="spacingAndGlyphs">WT</text>
<text x="325.84999999999997" y="271" font-size="8.4" text-anchor="middle" fill="#553206" color="#553206" textLength="24.2" lengthAdjust="spacingAndGlyphs">0.4447</text>
<text x="355.95" y="271" font-size="8.4" text-anchor="middle" fill="#224f0e" color="#224f0e" textLength="24.2" lengthAdjust="spacingAndGlyphs">0.1278</text>
<text x="175.4" y="285" font-size="8.4" text-anchor="middle" fill="#224f0e" color="#224f0e" textLength="24.2" lengthAdjust="spacingAndGlyphs">0.0689</text>
<text x="205.5" y="285" font-size="8.4" text-anchor="middle" fill="#224f0e" color="#224f0e" textLength="24.2" lengthAdjust="spacingAndGlyphs">0.0906</text>
<text x="235.75" y="285" font-size="8.4" text-anchor="middle" fill="#224f0e" color="#224f0e" textLength="24.2" lengthAdjust="spacingAndGlyphs">0.3145</text>
<text x="265.8" y="285" font-size="8.4" text-anchor="middle" fill="#224f0e" color="#224f0e" textLength="24.2" lengthAdjust="spacingAndGlyphs">0.3308</text>
<text x="295.45" y="285" font-size="8.4" text-anchor="middle" fill="#224f0e" color="#224f0e" textLength="12.6" lengthAdjust="spacingAndGlyphs">WT</text>
<text x="325.84999999999997" y="285" font-size="8.4" text-anchor="middle" fill="#224f0e" color="#224f0e" textLength="24.2" lengthAdjust="spacingAndGlyphs">0.1813</text>
<text x="355.95" y="285" font-size="8.4" text-anchor="middle" fill="#224f0e" color="#224f0e" textLength="24.2" lengthAdjust="spacingAndGlyphs">0.1207</text>
<text x="175.0" y="314" font-size="8.4" text-anchor="middle" fill="#224f0e" color="#224f0e" textLength="12.6" lengthAdjust="spacingAndGlyphs">WT</text>
<text x="205.5" y="314" font-size="8.4" text-anchor="middle" fill="#224f0e" color="#224f0e" textLength="24.2" lengthAdjust="spacingAndGlyphs">0.2690</text>
<text x="235.75" y="314" font-size="8.4" text-anchor="middle" fill="#224f0e" color="#224f0e" textLength="24.2" lengthAdjust="spacingAndGlyphs">0.0888</text>
<text x="295.84999999999997" y="314" font-size="8.4" text-anchor="middle" fill="#224f0e" color="#224f0e" textLength="24.2" lengthAdjust="spacingAndGlyphs">0.0482</text>
<text x="325.84999999999997" y="314" font-size="8.4" text-anchor="middle" fill="#224f0e" color="#224f0e" textLength="24.2" lengthAdjust="spacingAndGlyphs">0.0633</text>
<text x="355.95" y="314" font-size="8.4" text-anchor="middle" fill="#224f0e" color="#224f0e" textLength="24.2" lengthAdjust="spacingAndGlyphs">0.0671</text>
<text x="175.0" y="329" font-size="8.4" text-anchor="middle" fill="#224f0e" color="#224f0e" textLength="12.6" lengthAdjust="spacingAndGlyphs">WT</text>
<text x="205.5" y="329" font-size="8.4" text-anchor="middle" fill="#224f0e" color="#224f0e" textLength="24.2" lengthAdjust="spacingAndGlyphs">0.1611</text>
<text x="235.75" y="329" font-size="8.4" text-anchor="middle" fill="#224f0e" color="#224f0e" textLength="24.2" lengthAdjust="spacingAndGlyphs">0.1151</text>
<text x="295.84999999999997" y="329" font-size="8.4" text-anchor="middle" fill="#224f0e" color="#224f0e" textLength="24.2" lengthAdjust="spacingAndGlyphs">0.2552</text>
<text x="325.84999999999997" y="329" font-size="8.4" text-anchor="middle" fill="#553206" color="#553206" textLength="24.2" lengthAdjust="spacingAndGlyphs">0.3431</text>
<text x="355.95" y="329" font-size="8.4" text-anchor="middle" fill="#224f0e" color="#224f0e" textLength="24.2" lengthAdjust="spacingAndGlyphs">0.1741</text>
<rect x="0" y="0" width="520" height="342" fill="none" stroke="#4a4a4a" stroke-width="2.8"/>
</svg>
</body></html>
